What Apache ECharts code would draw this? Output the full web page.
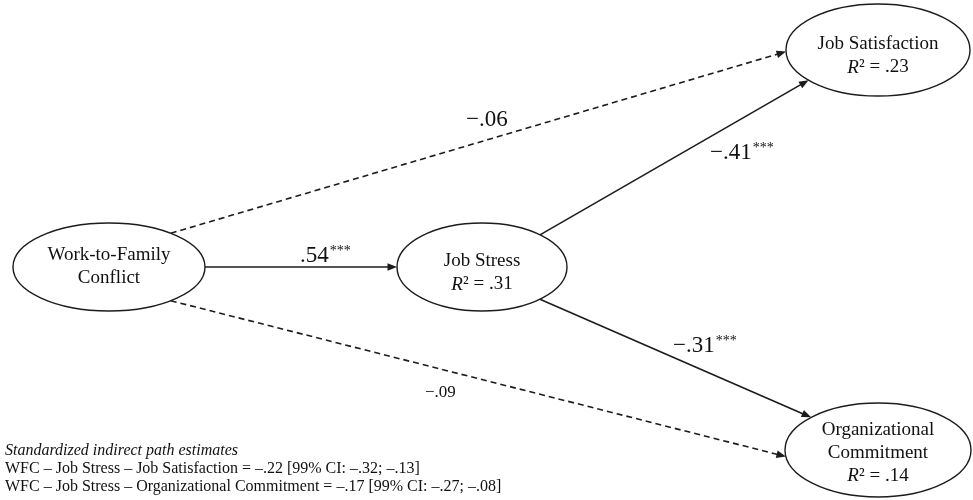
<!DOCTYPE html>
<html><head><meta charset="utf-8">
<script src="https://cdn.jsdelivr.net/npm/echarts@6/dist/echarts.min.js"></script>
<style>html,body{margin:0;padding:0;background:#fff}#c{width:973px;height:500px}</style>
</head><body><div id="c"></div>
<script>
// ---- Data ----
const nodeNames = ['Work-to-Family\nConflict', 'Job Stress', 'Job Satisfaction', 'Organizational\nCommitment'];
const nodeR2 = [null, '.31', '.23', '.14'];
const pathFrom = [0, 0, 0, 1, 1];
const pathTo = [1, 2, 3, 2, 3];
const pathEstimate = ['.54', '\u2212.06', '\u2212.09', '\u2212.41', '\u2212.31'];
const pathSig = ['***', '', '', '***', '***'];
const pathSignificant = [true, false, false, true, true];
const indirectTitle = 'Standardized indirect path estimates';
const indirectLines = [
  'WFC \u2013 Job Stress \u2013 Job Satisfaction = \u2013.22 [99% CI: \u2013.32; \u2013.13]',
  'WFC \u2013 Job Stress \u2013 Organizational Commitment = \u2013.17 [99% CI: \u2013.27; \u2013.08]'
];

// ---- Layout (diagram units, 973 x 500) ----
const nodeLayout = [
  {cx: 109, cy: 267, rx: 96, ry: 44, ty: -0.5},
  {cx: 482, cy: 267, rx: 85, ry: 44, ty: 6},
  {cx: 878, cy: 50, rx: 92, ry: 46, ty: 6},
  {cx: 878, cy: 450, rx: 93, ry: 47, ty: 3}
];
const pathLayout = [
  {a0: 0, a1: 180, lx: 300, ly: 256, size: 23},
  {a0: -50, a1: 178, lx: 466, ly: 120, size: 23},
  {a0: 50, a1: 172, lx: 425, ly: 393, size: 17},
  {a0: -47, a1: 139, lx: 710, ly: 153, size: 23},
  {a0: 47, a1: -136, lx: 673, ly: 346, size: 23}
];
const FONT = '"Liberation Serif", "Times New Roman", serif';
const INK = '#1c1c1c';

function port(i, deg) {
  const n = nodeLayout[i], a = deg * Math.PI / 180;
  return [n.cx + n.rx * Math.cos(a), n.cy + n.ry * Math.sin(a)];
}

const chart = echarts.init(document.getElementById('c'), null, {renderer: 'canvas'});
const idx = (arr) => arr.map((_, i) => i);

chart.setOption({
  animation: false,
  backgroundColor: '#fff',
  grid: {left: 0, right: 0, top: 0, bottom: 0},
  xAxis: {type: 'value', min: 0, max: 973, show: false},
  yAxis: {type: 'value', min: 0, max: 500, inverse: true, show: false},
  series: [
    {
      type: 'custom', coordinateSystem: 'cartesian2d', data: idx(pathFrom), z: 1,
      renderItem: function (params, api) {
        const i = params.dataIndex;
        const L = pathLayout[i];
        const p0 = api.coord(port(pathFrom[i], L.a0));
        const p1 = api.coord(port(pathTo[i], L.a1));
        const dx = p1[0] - p0[0], dy = p1[1] - p0[1];
        const len = Math.sqrt(dx * dx + dy * dy);
        const ux = dx / len, uy = dy / len;
        const ah = 9.5, aw = 3.8;
        const bx = p1[0] - ux * ah, by = p1[1] - uy * ah;
        const lab = api.coord([L.lx, L.ly]);
        const children = [
          {type: 'line', shape: {x1: p0[0], y1: p0[1], x2: bx + ux, y2: by + uy},
           style: {stroke: INK, lineWidth: 1.6, lineDash: pathSignificant[i] ? null : [6, 4]}},
          {type: 'polygon', shape: {points: [p1, [bx - uy * aw, by + ux * aw], [bx + uy * aw, by - ux * aw]]},
           style: {fill: INK}},
          {type: 'text', x: lab[0], y: lab[1],
           style: {
             text: '{n|' + pathEstimate[i] + '}' + (pathSig[i] ? '{s|' + pathSig[i] + '}' : ''),
             align: 'left', verticalAlign: 'middle',
             rich: {
               n: {fontFamily: FONT, fontSize: L.size, fill: '#111'},
               s: {fontFamily: FONT, fontSize: 14, lineHeight: 12, fill: '#111', verticalAlign: 'top', padding: [0, 0, 0, 1]}
             }
           }}
        ];
        return {type: 'group', children: children};
      }
    },
    {
      type: 'custom', coordinateSystem: 'cartesian2d', data: idx(nodeNames), z: 2,
      renderItem: function (params, api) {
        const i = params.dataIndex;
        const n = nodeLayout[i];
        const c = api.coord([n.cx, n.cy]);
        const s = api.size([n.rx, n.ry]);
        let txt = nodeNames[i];
        if (nodeR2[i] !== null) txt += '\n{i|R}\u00B2 = ' + nodeR2[i];
        return {type: 'group', children: [
          {type: 'ellipse', shape: {cx: c[0], cy: c[1], rx: s[0], ry: s[1]},
           style: {fill: '#fff', stroke: INK, lineWidth: 1.4}},
          {type: 'text', x: c[0], y: c[1] + n.ty,
           style: {text: txt, align: 'center', verticalAlign: 'middle',
             fontFamily: FONT, fontSize: 19, lineHeight: 23, fill: '#111',
             rich: {i: {fontFamily: FONT, fontSize: 19, lineHeight: 23, fontStyle: 'italic', fill: '#111'}}}}
        ]};
      }
    }
  ],
  graphic: [
    {type: 'text', left: 5, top: 443, style: {text: indirectTitle, font: 'italic 16px ' + FONT, fill: '#111'}},
    {type: 'text', left: 5, top: 461, style: {text: indirectLines[0], font: '16px ' + FONT, fill: '#111'}},
    {type: 'text', left: 5, top: 479, style: {text: indirectLines[1], font: '16px ' + FONT, fill: '#111'}}
  ]
});
</script>
</body></html>
